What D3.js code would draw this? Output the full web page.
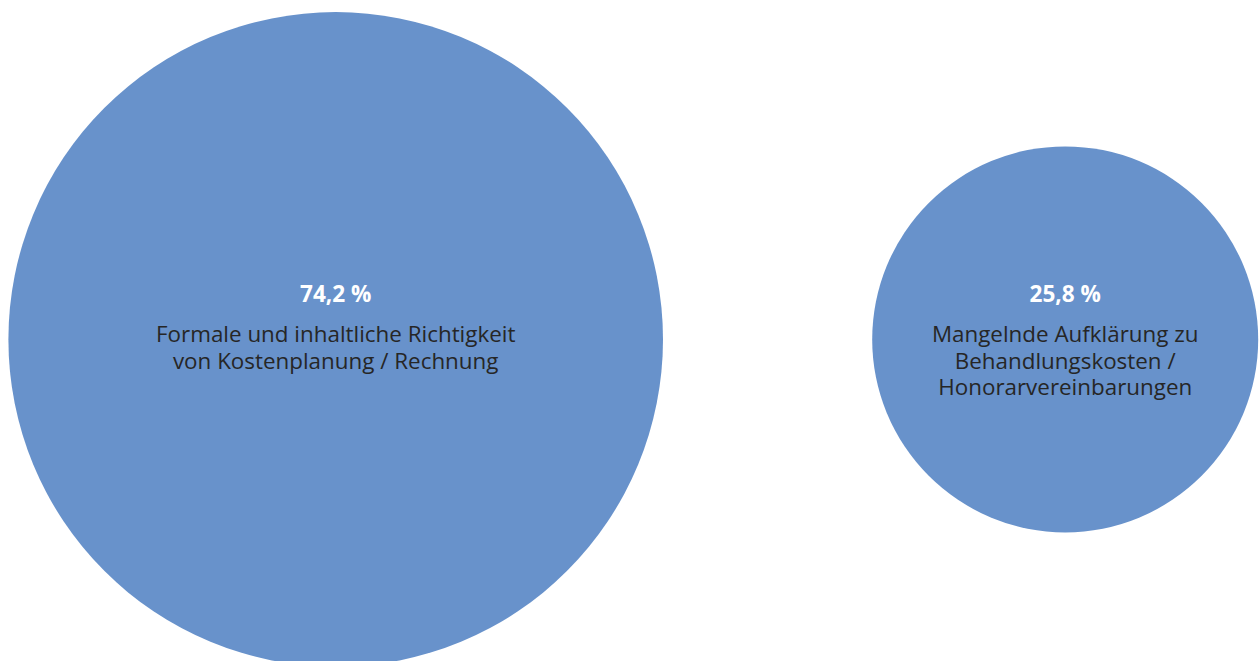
<!DOCTYPE html>
<html><head><meta charset="utf-8">
<script src="https://cdn.jsdelivr.net/npm/d3@7"></script>
<style>html,body{margin:0;padding:0;background:#fff;overflow:hidden}</style>
</head><body>
<svg id="chart" width="1260" height="661"></svg>
<script>
const categories = ["Formale und inhaltliche Richtigkeit|von Kostenplanung / Rechnung",
                    "Mangelnde Aufklärung zu|Behandlungskosten /|Honorarvereinbarungen"];
const values = [74.2, 25.8];
const valueLabels = ["74,2 %", "25,8 %"];

const svg = d3.select("#chart");
const r = d3.scaleSqrt().domain([0, 74.2]).range([0, 327.3]);
const x = d3.scalePoint().domain(categories).range([335.7, 1065.2]);
const cy = 339.4;

const g = svg.selectAll("g.bubble").data(categories).join("g")
  .attr("class", "bubble")
  .attr("transform", d => `translate(${x(d)},${cy})`);

g.append("circle")
  .attr("r", (d, i) => r(values[i]))
  .attr("fill", "#6892cb");

g.append("text")
  .attr("text-anchor", "middle")
  .attr("y", -37)
  .attr("font-family", "Open Sans")
  .attr("font-weight", "bold")
  .attr("font-size", 22.6)
  .attr("fill", "#fff")
  .text((d, i) => valueLabels[i]);

g.each(function(d) {
  const lines = d.split("|");
  const t = d3.select(this).append("text")
    .attr("text-anchor", "middle")
    .attr("font-family", "Open Sans")
    .attr("font-size", 22.4)
    .attr("fill", "#262626");
  lines.forEach((l, j) => t.append("tspan").attr("x", 0).attr("y", 3 + j * 26.5).text(l));
});
</script>
</body></html>
